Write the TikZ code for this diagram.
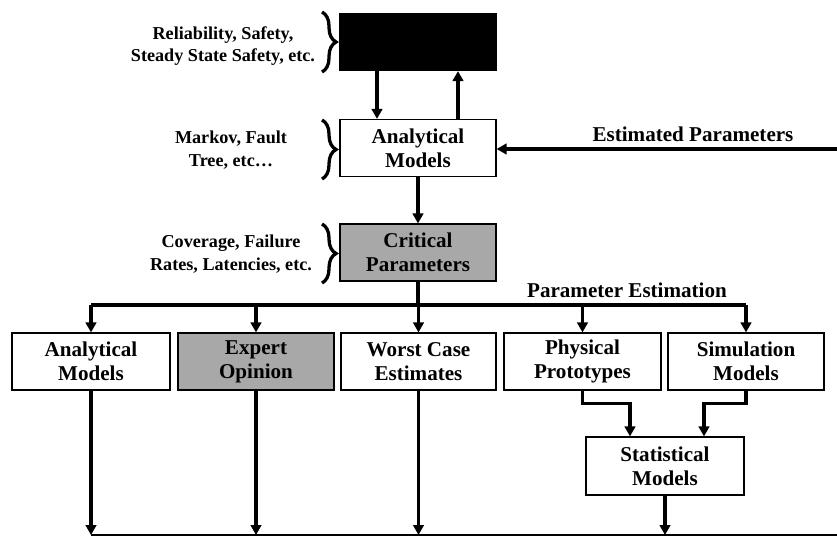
\documentclass[tikz,border=0pt]{standalone}
\usepackage{fontspec}
\setmainfont{Liberation Serif}
\usepackage{tikz}
\usetikzlibrary{arrows.meta,calc,decorations.pathreplacing}

\tikzset{
  blk/.style={draw=black,line width=1pt,minimum width=4.68cm,minimum height=1.71cm,
    align=center,inner sep=0pt,font=\fontsize{18}{20.5}\selectfont\bfseries},
  shaded/.style={blk,fill=black!34},
  flow/.style={draw=black,line width=2.6pt,-{Triangle[length=8.5pt,width=9pt]}},
  bar/.style={draw=black,line width=2.6pt},
  note/.style={align=center,font=\fontsize{15.5}{19.5}\selectfont\bfseries},
  brc/.style={draw=black,line width=2.8pt,decorate,decoration={brace,amplitude=12pt,aspect=0.5}}
}

\begin{document}
\begin{tikzpicture}[x=0.03cm,y=-0.03cm]
    \useasboundingbox (0,0) rectangle (837,537);

    % top part
    \node[blk,fill=black] (res) at (418,42) {};
    \node[blk] (am) at (418,148) {Analytical\\Models};
    \node[shaded] (cp) at (418,252.5) {Critical\\Parameters};

    \draw[flow] ($ (res.south) + (-41,0) $) -- ($ (am.north) + (-41,0) $);
    \draw[flow] ($ (am.north) + (40,0) $) -- ($ (res.south) + (40,0) $);
    \draw[flow] (am) -- (cp);

    \coordinate (ein) at (837,149);
    \draw[flow] (ein) -- (am.east |- ein);
    \node[font=\fontsize{18}{20.5}\selectfont\bfseries] (elbl) at (693,134) {Estimated Parameters};

    \node[note] (n1) at (223,46) {Reliability, Safety,\\Steady State Safety, etc.};
    \node[note] (n2) at (231,150) {Markov, Fault\\Tree, etc\dots};
    \node[note] (n3) at (231,254) {Coverage, Failure\\Rates, Latencies, etc.};
    \draw[brc] (322,12) -- (322,72);
    \draw[brc] (322,120) -- (322,179);
    \draw[brc] (322,224) -- (322,283);

    % estimation methods
    \coordinate (bus) at (418,305);
    \coordinate (bot) at (418,535);
    \node[blk,minimum width=4.74cm] (am2) at (91,361.5) {Analytical\\Models};
    \node[shaded] (eo) at (256,361.5) {Expert\\Opinion};
    \node[blk,minimum width=4.65cm] (wce) at (418.5,361.5) {Worst Case\\Estimates};
    \node[blk,minimum width=4.71cm] (pp) at (582.5,361.5) {Physical\\Prototypes};
    \node[blk] (sm) at (746,361.5) {Simulation\\Models};
    \node[blk,minimum width=4.74cm,minimum height=1.74cm] (st) at (665,466) {Statistical\\Models};

    \draw[bar] (cp.south) -- (bus);
    \draw[bar] (am2.north |- bus) -- (sm.north |- bus);
    \node[font=\fontsize{18}{20.5}\selectfont\bfseries] (pe) at (627,290) {Parameter Estimation};
    \foreach \b in {am2,eo,wce,pp,sm} {
      \draw[flow] (\b.north |- bus) -- (\b.north);
    }

    \draw[flow] (pp.south) |- ($ (st.north) + (-35,-33) $) -- ($ (st.north) + (-35,0) $);
    \draw[flow] (sm.south) |- ($ (st.north) + (39,-33) $) -- ($ (st.north) + (39,0) $);

    \foreach \b in {am2,eo,wce,st} {
      \draw[flow] (\b.south) -- (\b.south |- bot);
    }
    \draw[draw=black,line width=1.6pt] (am2.south |- bot) -- (837,535);

  \end{tikzpicture}
\end{document}
